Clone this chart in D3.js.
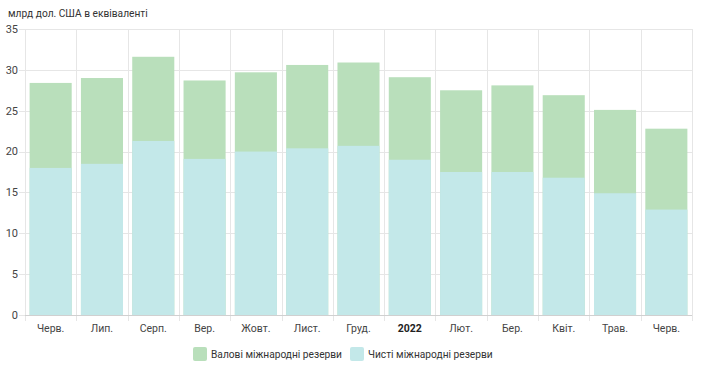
<!DOCTYPE html>
<html><head><meta charset="utf-8">
<script src="https://cdn.jsdelivr.net/npm/d3@7"></script>
<style>
html,body{margin:0;padding:0;background:#fff;}
svg{display:block;font-family:Roboto,"Noto Sans",sans-serif;}
</style></head>
<body>
<svg id="c" width="701" height="368"></svg>
<script>
const categories = ["Черв.","Лип.","Серп.","Вер.","Жовт.","Лист.","Груд.","2022","Лют.","Бер.","Квіт.","Трав.","Черв."];
const grossReserves = [28.4,29.0,31.6,28.7,29.7,30.6,30.9,29.1,27.5,28.1,26.9,25.1,22.8];
const netReserves   = [18.0,18.5,21.3,19.1,20.0,20.4,20.7,19.0,17.5,17.5,16.8,14.9,12.9];
const yTicks = [0,5,10,15,20,25,30,35];
const seriesNames = ["Валові міжнародні резерви","Чисті міжнародні резерви"];
const colors = ["#b9dfbb","#c3e8e9"];

(function(){
const svg = d3.select("#c");
const pLeft = 25, pRight = 692, pTop = 29, pBottom = 315;

const x = d3.scaleBand().domain(d3.range(categories.length)).range([pLeft,pRight]).paddingInner(0.18).paddingOuter(0.09);
const xg = d3.scaleBand().domain(d3.range(categories.length)).range([pLeft,pRight]);
const y = d3.scaleLinear().domain([0,35]).range([pBottom,pTop]);

// horizontal grid
svg.append("g").selectAll("line").data(yTicks).join("line")
  .attr("x1",pLeft-6).attr("x2",pRight).attr("y1",d=>Math.round(y(d))+0.5).attr("y2",d=>Math.round(y(d))+0.5)
  .attr("stroke","#e6e6e6").attr("stroke-width",1);
// vertical grid
const vb = d3.range(categories.length+1).map(i=> i<categories.length ? xg(i) : pRight);
svg.append("g").selectAll("line").data(vb).join("line")
  .attr("x1",d=>Math.round(d)+0.5).attr("x2",d=>Math.round(d)+0.5).attr("y1",pTop).attr("y2",pBottom+6)
  .attr("stroke","#e6e6e6").attr("stroke-width",1);

// bars
svg.append("g").selectAll("rect").data(grossReserves).join("rect")
  .attr("x",(d,i)=>x(i)).attr("width",x.bandwidth())
  .attr("y",d=>y(d)).attr("height",d=>y(0)-y(d)).attr("fill",colors[0]);
svg.append("g").selectAll("rect").data(netReserves).join("rect")
  .attr("x",(d,i)=>x(i)).attr("width",x.bandwidth())
  .attr("y",d=>y(d)).attr("height",d=>y(0)-y(d)).attr("fill",colors[1]);

// axis line
svg.append("line").attr("x1",pLeft).attr("x2",pRight).attr("y1",pBottom+0.5).attr("y2",pBottom+0.5)
  .attr("stroke","#d0d0d0");

// y labels
svg.append("g").selectAll("text").data(yTicks).join("text")
  .attr("x",18).attr("y",d=>y(d)).attr("dy","0.35em").attr("text-anchor","end")
  .attr("font-size",11).attr("fill","#444").text(d=>d);

// x labels
svg.append("g").selectAll("text").data(categories).join("text")
  .attr("x",(d,i)=>x(i)+x.bandwidth()/2).attr("y",328).attr("dy","0.35em").attr("text-anchor","middle")
  .attr("font-size",10.5)
  .attr("font-weight",d=>d==="2022"?"bold":"normal").attr("fill",d=>d==="2022"?"#222":"#444")
  .text(d=>d);

// title
svg.append("text").attr("x",8).attr("y",13).attr("dy","0.35em").attr("font-size",10.2).attr("fill","#333")
  .text("млрд дол. США в еквіваленті");

// legend
const legendX = [193,350];
const lg = svg.append("g").selectAll("g").data(seriesNames).join("g")
  .attr("transform",(d,i)=>`translate(${legendX[i]},347)`);
lg.append("rect").attr("width",14).attr("height",14).attr("rx",2).attr("fill",(d,i)=>colors[i]);
lg.append("text").attr("x",18).attr("y",7).attr("dy","0.35em").attr("font-size",10.2).attr("fill","#333").text(d=>d);
})();
</script>
</body></html>
